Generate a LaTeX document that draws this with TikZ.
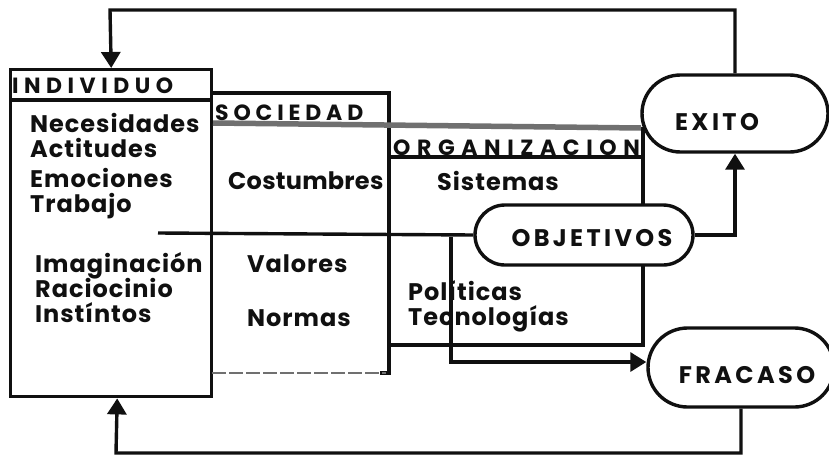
\documentclass[tikz,border=0pt]{standalone}
\usepackage{fontspec}
\usetikzlibrary{arrows.meta,shapes.misc}
\newfontfamily\bodyf[LetterSpace=4]{Poppins}
\newfontfamily\tightf[LetterSpace=1]{Poppins}
\newfontfamily\headf[LetterSpace=25]{Poppins}
\newfontfamily\socf[LetterSpace=22]{Poppins}
\newfontfamily\orgf[LetterSpace=30]{Poppins}
\newfontfamily\pillf[LetterSpace=14]{Poppins}
\definecolor{ink}{HTML}{101010}
\definecolor{graybar}{HTML}{707070}
\tikzset{
  ln/.style={draw=ink, line width=3.4pt},
  arr/.style={ln, -{Triangle[length=16pt,width=19pt]}},
  body/.style={font=\bodyf\bfseries\fontsize{24}{26}\selectfont, anchor=base west, inner sep=0pt, text=ink},
  head/.style={font=\headf\bfseries\fontsize{22}{24}\selectfont, anchor=base west, inner sep=0pt, text=ink},
  pill/.style={rounded rectangle, draw=ink, line width=3.4pt, fill=white, inner sep=0pt,
     font=\pillf\bfseries\fontsize{24}{26}\selectfont, text=ink},
}
\begin{document}
\begin{tikzpicture}[x=1pt,y=-1pt]
\useasboundingbox (0,0) rectangle (829,463);
% INDIVIDUO box
\node[draw=ink, line width=3.4pt, minimum width=201pt, minimum height=327pt, anchor=north west, inner sep=0pt] (ind) at (9,68) {};
\draw[ln] (9,100) -- (210,100);
% SOCIEDAD box
\draw[ln] (210,93) -- (389,93) -- (389,373) -- (380,373);
\draw[graybar, line width=1.4pt, dash pattern=on 14pt off 3pt] (212,373) -- (386,373);
% ORGANIZACION box
\draw[ln] (389,345) -- (643,345) -- (643,127);
\draw[ink, line width=4.5pt] (389,157) -- (643,157);
\draw[graybar, line width=5.5pt] (213,123) -- (641,128);
% pills
\node[pill, minimum width=186pt, minimum height=77pt, text height=33pt, text depth=0pt] (exito) at (735,113.5) {\hspace*{-36pt}EXITO};
\node[pill, minimum width=218pt, minimum height=60pt, text height=22pt, text depth=0pt] (obj) at (584,235) {OBJETIVOS\hspace*{-16pt}};
\node[pill, minimum width=186pt, minimum height=79pt, text height=32pt, text depth=0pt] (fracaso) at (741,367.5) {FRACASO\hspace*{-12pt}};
% texts
\node[head] (tind) at (12,93) {INDIVIDUO};
\node[body] (t1) at (30,132) {Necesidades};
\node[body] (t2) at (30,157) {Actitudes};
\node[body] (t3) at (30,187) {Emociones};
\node[body] (t4) at (30,212) {Trabajo};
\node[body] (t5) at (35,272) {Imaginación};
\node[body] (t6) at (35,297) {Raciocinio};
\node[body] (t7) at (35,322) {Instíntos};
\node[head, font=\socf\bfseries\fontsize{22}{24}\selectfont] (tsoc) at (215,120) {SOCIEDAD};
\node[body, font=\tightf\bfseries\fontsize{24}{26}\selectfont] (s1) at (228,189) {Costumbres};
\node[body] (s2) at (247,272) {Valores};
\node[body] (s3) at (247,326) {Normas};
\node[head, font=\orgf\bfseries\fontsize{22}{24}\selectfont] (torg) at (393,155) {ORGANIZACION};
\node[body] (o1) at (437,190) {Sistemas};
\node[body] (o2) at (408,300) {Políticas};
\node[body] (o3) at (408,325) {Tecnologías};
% connectors
\coordinate (trab) at (158,233);
\coordinate (split) at (451,237);
\draw[ln] (trab) -- (obj.west);
\draw[arr] (split) |- ([yshift=5.5pt]fracaso.west);
\draw[arr] (obj.east) -| (exito.south);
\draw[arr] (exito.north) |- (110,10) -- (ind.north);
\draw[arr] (fracaso.south) |- (116,453) -- ([xshift=6pt]ind.south);
\end{tikzpicture}
\end{document}
